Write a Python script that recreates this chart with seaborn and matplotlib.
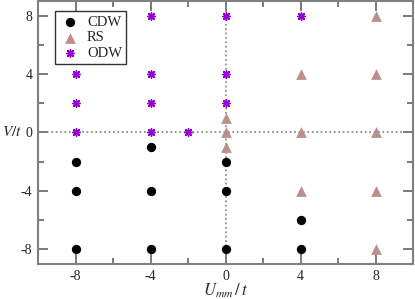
import matplotlib
matplotlib.use("Agg")
import matplotlib.pyplot as plt
import seaborn as sns
import pandas as pd
from matplotlib.ticker import MultipleLocator

# phase diagram points (U_mm/t, V/t)
cdw_u = [-8, -8, -8, -4, -4, -4, 0, 0, 0, 4, 4]
cdw_v = [-2, -4, -8, -1, -4, -8, -2, -4, -8, -6, -8]
rs_u = [0, 0, 0, 4, 4, 4, 8, 8, 8, 8, 8]
rs_v = [1, 0, -1, 4, 0, -4, 8, 4, 0, -4, -8]
odw_u = [-8, -8, -8, -4, -4, -4, -4, -2, 0, 0, 0, 4]
odw_v = [4, 2, 0, 8, 4, 2, 0, 0, 8, 4, 2, 8]

sns.set_style("ticks")
plt.rcParams['font.family'] = ['Liberation Serif', 'DejaVu Serif']
plt.rcParams['mathtext.fontset'] = 'stix'
plt.rcParams['axes.unicode_minus'] = False

fig = plt.figure(figsize=(4.15, 2.99), dpi=100)
ax = fig.add_axes([0.0916, 0.117, 0.904, 0.88])

ax.axhline(0, color='#808080', ls=':', lw=1.2, zorder=1)
ax.axvline(0, color='#808080', ls=':', lw=1.2, zorder=1)

cdw = pd.DataFrame({'u': cdw_u, 'v': cdw_v})
rs = pd.DataFrame({'u': rs_u, 'v': rs_v})
odw = pd.DataFrame({'u': odw_u, 'v': odw_v})

sns.scatterplot(data=cdw, x='u', y='v', ax=ax, marker='o', s=45,
                color='black', edgecolor='black', linewidth=0, label='CDW', zorder=3)
sns.scatterplot(data=rs, x='u', y='v', ax=ax, marker='^', s=60,
                color='#bc8f8f', edgecolor='#bc8f8f', linewidth=0, label='RS', zorder=3)
sns.scatterplot(data=odw, x='u', y='v', ax=ax, marker=(8, 2, 0), s=28,
                color='#9400d3', linewidth=1.1, label='ODW', zorder=3)

ax.set_xlim(-10, 10)
ax.set_ylim(-9, 9)
ax.xaxis.set_major_locator(MultipleLocator(4))
ax.xaxis.set_minor_locator(MultipleLocator(2))
ax.yaxis.set_major_locator(MultipleLocator(4))
ax.yaxis.set_minor_locator(MultipleLocator(2))
ax.tick_params(which='both', direction='in', top=True, right=True,
               color='#707070', width=1.3, labelsize=10, pad=4)
ax.tick_params(which='major', length=7)
ax.tick_params(which='minor', length=4)
for s in ax.spines.values():
    s.set_color('#808080')
    s.set_linewidth(1.5)

ax.set_xlabel('$U_{mm}\\,/\\,t$', fontsize=12, labelpad=-1)
ax.set_ylabel('$V/t$', fontsize=11, rotation=0, labelpad=6, va='center')

leg = ax.legend(loc='upper left', bbox_to_anchor=(0.045, 0.96), frameon=True,
                fancybox=False, edgecolor='black', fontsize=10.5,
                handletextpad=0.4, borderpad=0.3, labelspacing=0.15,
                handlelength=1.5, borderaxespad=0)
leg.get_frame().set_linewidth(1.0)

fig.savefig('out.png', dpi=100)
